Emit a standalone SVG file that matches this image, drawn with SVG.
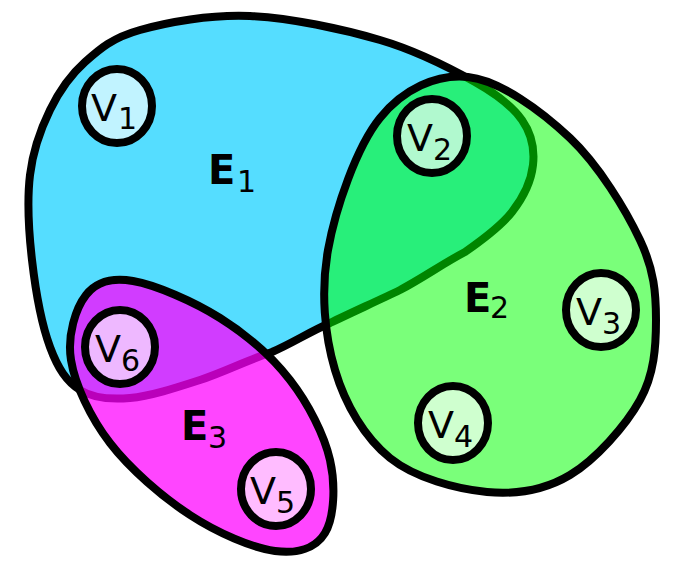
<svg xmlns="http://www.w3.org/2000/svg" width="673" height="561" viewBox="0 0 673 561">
<style>
.edge{stroke:#000;stroke-width:8;stroke-linejoin:round}
.e1{fill:#55ddff}
.e2{fill:#00ff00;fill-opacity:0.52}
.e3{fill:#ff00ff;fill-opacity:0.73}
.vtx{fill:#fff;fill-opacity:0.64;stroke:#000;stroke-width:8}
text{font-family:"DejaVu Sans","Noto Sans",sans-serif;fill:#000}
.el{font-weight:bold;font-size:40px}
.vl{font-size:38px}
.sub{font-size:30px;font-weight:normal}
</style>
<rect width="673" height="561" fill="#fff"/>
<g id="hyperedges">
<g id="E1">
<path class="edge e1" d="M250,16 C290,17.7 342.5,29 380,40 C417.5,51 451.3,68.7 475,82 C498.7,95.3 512.3,106.2 522,120 C531.7,133.8 534.7,149.7 533,165 C531.3,180.3 523.3,197.5 512,212 C500.7,226.5 483.7,239 465,252 C442.5,263.8 422.5,278.2 400,290 C378.7,300.3 351.3,312.7 330,323 C308.3,332.5 293.7,342.5 272,352 C248.3,359.7 223.7,372.3 200,380 C176.3,387.7 150,396.3 130,398 C110,399.7 93.3,398.5 80,390 C66.7,381.5 58,368.7 50,347 C42,325.3 35.3,288.7 32,260 C28.7,231.3 27,200 30,175 C33,150 40.8,128.8 50,110 C59.2,91.2 70,75.3 85,62 C100,48.7 112.5,37.7 140,30 C167.5,22.3 210,14.3 250,16 Z"/>
<text><tspan class="el" x="208" y="184">E</tspan><tspan class="sub" x="237" y="192">1</tspan></text>
</g>
<g id="E2">
<path class="edge e2" d="M468,77 C499.7,80.3 541.3,110.8 570,138 C598.7,165.2 625.7,209.7 640,240 C654.3,270.3 656,293.3 656,320 C656,346.7 654.3,374.2 640,400 C625.7,425.8 595.5,459.7 570,475 C544.5,490.3 517,494.8 487,492 C457,489.2 415.3,478.3 390,458 C364.7,437.7 345.3,404.7 335,370 C324.7,335.3 320.5,292 328,250 C335.5,208 356.7,146.8 380,118 C403.3,89.2 436.3,73.7 468,77 Z"/>
<text><tspan class="el" x="464" y="312">E</tspan><tspan class="sub" x="490" y="318">2</tspan></text>
</g>
<g id="E3">
<path class="edge e3" d="M133,281 C155.3,284.8 193.8,301.5 220,318 C246.2,334.5 271.7,356.3 290,380 C308.3,403.7 324.2,434.5 330,460 C335.8,485.5 334.2,517.8 325,533 C315.8,548.2 297.5,554 275,551 C252.5,548 217.5,533 190,515 C162.5,497 129.8,468.8 110,443 C90.2,417.2 75,384.7 71,360 C67,335.3 75.7,308.2 86,295 C96.3,281.8 110.7,277.2 133,281 Z"/>
<text><tspan class="el" x="181" y="440">E</tspan><tspan class="sub" x="208" y="448">3</tspan></text>
</g>
</g>
<g id="connectors"></g>
<g id="vertices">
<g id="V1"><ellipse class="vtx" cx="117" cy="106" rx="35" ry="37"/><text><tspan class="vl" x="91" y="121">V</tspan><tspan class="sub" x="118" y="129">1</tspan></text></g>
<g id="V2"><ellipse class="vtx" cx="432" cy="136" rx="35" ry="37"/><text><tspan class="vl" x="407" y="151">V</tspan><tspan class="sub" x="433" y="160">2</tspan></text></g>
<g id="V3"><ellipse class="vtx" cx="601" cy="310" rx="35" ry="37"/><text><tspan class="vl" x="576" y="325">V</tspan><tspan class="sub" x="602" y="334">3</tspan></text></g>
<g id="V4"><ellipse class="vtx" cx="453" cy="423" rx="35" ry="37"/><text><tspan class="vl" x="428" y="438">V</tspan><tspan class="sub" x="454" y="447">4</tspan></text></g>
<g id="V5"><ellipse class="vtx" cx="276" cy="489" rx="35" ry="37"/><text><tspan class="vl" x="250" y="504">V</tspan><tspan class="sub" x="276" y="513">5</tspan></text></g>
<g id="V6"><ellipse class="vtx" cx="120" cy="347" rx="35" ry="37"/><text><tspan class="vl" x="95" y="362">V</tspan><tspan class="sub" x="121" y="371">6</tspan></text></g>
</g>
</svg>
